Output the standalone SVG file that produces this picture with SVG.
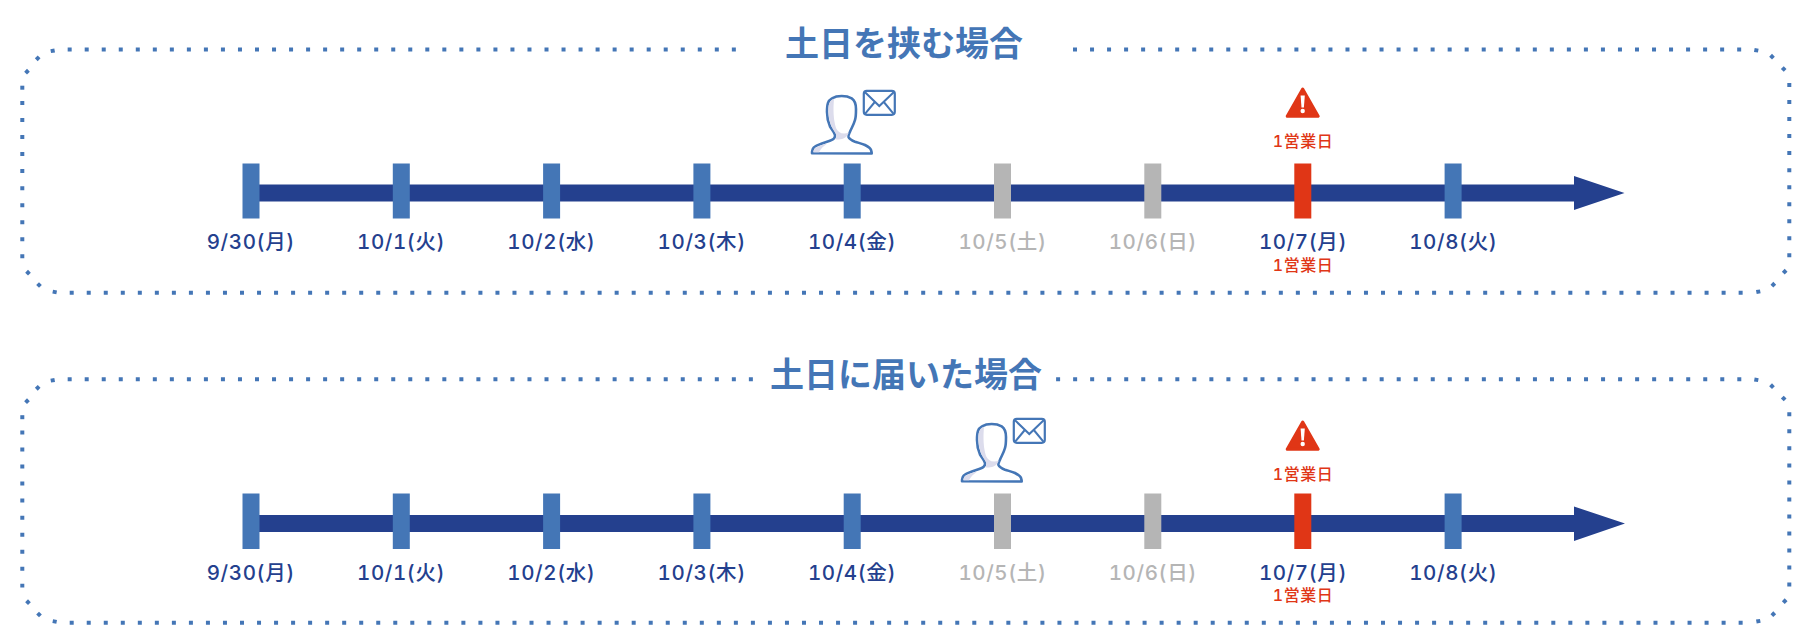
<svg xmlns="http://www.w3.org/2000/svg" width="1807" height="637" viewBox="0 0 1807 637">
<style>
text{font-family:"Inter","Noto Sans CJK JP","Noto Sans",sans-serif;text-anchor:middle;font-variant-numeric:tabular-nums}
.title{font-family:"Noto Sans CJK JP","Noto Sans",sans-serif;font-size:34px;font-weight:700;fill:#4476b6}
.d{font-size:20.500px;font-weight:500;fill:#24408e;letter-spacing:.6px}
.g{font-size:20.500px;font-weight:500;fill:#b5b5b5;letter-spacing:.6px}
.r{font-size:16px;font-weight:500;fill:#e03616;letter-spacing:.5px}
.dot{fill:none;stroke:#4476b6;stroke-width:4;stroke-dasharray:4 13.03}
.c{fill:#4476b6}
.bar{fill:#24408e}
.tb{fill:#4476b6}.tg{fill:#b5b5b5}.tr{fill:#e03616}
.pl{fill:#fff;stroke:#4476b6;stroke-width:2.600;stroke-linejoin:round}
.shade{fill:#dcdcec}
.ev{fill:#fff;stroke:#4476b6;stroke-width:2.200;stroke-linejoin:round}
.evl{fill:none;stroke:#4476b6;stroke-width:2}
</style>
<defs>
<g id="corners">
<rect class="c" x="50.700" y="48.800" width="4" height="4" transform="rotate(-10 52.700 50.800)"/>
<rect class="c" x="35.700" y="56.300" width="4" height="4" transform="rotate(45 37.700 58.300)"/>
<rect class="c" x="25" y="69.700" width="4" height="4" transform="rotate(45 27 71.700)"/>
<rect class="c" x="20.300" y="85.700" width="4" height="4"/>
<rect class="c" x="1754.300" y="48.300" width="4" height="4" transform="rotate(10 1756.300 50.300)"/>
<rect class="c" x="1770" y="54.700" width="4" height="4" transform="rotate(45 1772 56.700)"/>
<rect class="c" x="1781.700" y="67" width="4" height="4" transform="rotate(45 1783.700 69)"/>
<rect class="c" x="1782.700" y="269.700" width="4" height="4" transform="rotate(45 1784.700 271.700)"/>
<rect class="c" x="1771.300" y="282.700" width="4" height="4" transform="rotate(45 1773.300 284.700)"/>
<rect class="c" x="1756.300" y="289.700" width="4" height="4" transform="rotate(-10 1758.300 291.700)"/>
<rect class="c" x="26" y="270.700" width="4" height="4" transform="rotate(45 28 272.700)"/>
<rect class="c" x="37" y="283" width="4" height="4" transform="rotate(45 39 285)"/>
<rect class="c" x="52.700" y="290" width="4" height="4" transform="rotate(10 54.700 292)"/>
</g>
<g id="person">
<path class="pl" d="M812 153.300C812 150 812.500 148 815 146.500C819 143.800 825 142.500 830.500 140.500C833.500 139.500 835.300 137.500 835 135C834.500 132.500 832 130 830 126.500C828 122 827 118 827 112C827 104 828 100.500 832 98.300C835 96.500 838 96 841.700 96C845.500 96 849 96.800 851.700 98.300C855 100.500 856 104 856 109C856 114 856 117 855 120C853.800 124.500 851.500 128 850 131.700C849 134 848 135.500 848.500 137C849.500 139.500 852 140.500 855 141.700C859 143 862.500 143.800 865 145C868.500 146.800 870.500 148 871 150C871.500 151.500 871.700 152.500 871.700 153.500Z"/>
<path class="shade" d="M832 99.800C829 102 828.400 105 828.400 111C828.400 117 829.500 122 831.500 126.500C833 130 835.500 132.500 836.300 135C836.600 137 836 138 835.300 139.300C838 140.300 846 139 847.500 135L849 132.500C843 135 838 133 836 128C833.500 120 833 110 834 98.800Z"/>
<path class="shade" d="M813.500 152.300C813.600 149.500 814.500 148.500 816 147.500C819 145.800 823 144.500 827.500 143.200C823.500 146 820.500 149 819 152.300Z"/>
<rect class="ev" x="863.800" y="90.800" width="31" height="24" rx="3"/>
<path class="evl" d="M864.500 91.800L879.300 106L894.200 91.800M865 113.800L874.800 102M893.600 113.800L883.800 102"/>
</g>
<g id="warn">
<path fill="#e03616" stroke="#e03616" stroke-width="3" stroke-linejoin="round" d="M1302.700 89L1318.200 116.200H1287.200Z"/>
<path fill="#fff" d="M1300.600 95.500H1304.800L1303.900 107.500H1301.500Z"/>
<circle cx="1302.700" cy="111" r="2.200" fill="#fff"/>
</g>
</defs>

<g id="frame-1">
<path class="dot" d="M67.670 49.500H736M1073 49.500H1741.300"/>
<path class="dot" d="M1789.300 83V257.300"/>
<path class="dot" d="M69.700 292.700H1743.300"/>
<path class="dot" d="M22.300 101V258.300"/>
<use href="#corners"/>
</g>
<g id="frame-2">
<path class="dot" d="M67.670 379.300H753M1056.100 379.300H1741.300"/>
<path class="dot" d="M1789.300 412.300V587"/>
<path class="dot" d="M69.700 622.700H1743.300"/>
<path class="dot" d="M22.300 430.500V587.500"/>
<use href="#corners" y="329.500"/>
</g>
<text class="title" x="904" y="56">土日を挟む場合</text>
<text class="title" x="906" y="387">土日に届いた場合</text>

<g id="connectors">
<path class="bar" d="M255 184.500H1574V176L1624.500 193L1574 210V201.500H255Z"/>
<path class="bar" d="M255 515H1574V506.500L1625 523.500L1574 541V532H255Z"/>
</g>

<g id="timeline-1">
<rect class="tb" x="242.500" y="163.500" width="17" height="55"/>
<rect class="tb" x="392.800" y="163.500" width="17" height="55"/>
<rect class="tb" x="543.100" y="163.500" width="17" height="55"/>
<rect class="tb" x="693.400" y="163.500" width="17" height="55"/>
<rect class="tb" x="843.700" y="163.500" width="17" height="55"/>
<rect class="tg" x="994" y="163.500" width="17" height="55"/>
<rect class="tg" x="1144.300" y="163.500" width="17" height="55"/>
<rect class="tr" x="1294.300" y="163.500" width="17" height="55"/>
<rect class="tb" x="1444.600" y="163.500" width="17" height="55"/>
<text class="d" x="250.800" y="248.500">9/30(月)</text>
<text class="d" x="401.100" y="248.500">10/1(火)</text>
<text class="d" x="551.400" y="248.500">10/2(水)</text>
<text class="d" x="701.700" y="248.500">10/3(木)</text>
<text class="d" x="852" y="248.500">10/4(金)</text>
<text class="g" x="1002.500" y="248.500">10/5(土)</text>
<text class="g" x="1152.800" y="248.500">10/6(日)</text>
<text class="d" x="1303" y="248.500">10/7(月)</text>
<text class="d" x="1453.300" y="248.500">10/8(火)</text>
<text class="r" x="1303" y="271">1営業日</text>
<text class="r" x="1303" y="147">1営業日</text>
<use href="#person"/>
<use href="#warn"/>
</g>
<g id="timeline-2">
<rect class="tb" x="242.500" y="493.500" width="17" height="55.500"/>
<rect class="tb" x="392.800" y="493.500" width="17" height="55.500"/>
<rect class="tb" x="543.100" y="493.500" width="17" height="55.500"/>
<rect class="tb" x="693.400" y="493.500" width="17" height="55.500"/>
<rect class="tb" x="843.700" y="493.500" width="17" height="55.500"/>
<rect class="tg" x="994" y="493.500" width="17" height="55.500"/>
<rect class="tg" x="1144.300" y="493.500" width="17" height="55.500"/>
<rect class="tr" x="1294.300" y="493.500" width="17" height="55.500"/>
<rect class="tb" x="1444.600" y="493.500" width="17" height="55.500"/>
<text class="d" x="250.800" y="579.500">9/30(月)</text>
<text class="d" x="401.100" y="579.500">10/1(火)</text>
<text class="d" x="551.400" y="579.500">10/2(水)</text>
<text class="d" x="701.700" y="579.500">10/3(木)</text>
<text class="d" x="852" y="579.500">10/4(金)</text>
<text class="g" x="1002.500" y="579.500">10/5(土)</text>
<text class="g" x="1152.800" y="579.500">10/6(日)</text>
<text class="d" x="1303" y="579.500">10/7(月)</text>
<text class="d" x="1453.300" y="579.500">10/8(火)</text>
<text class="r" x="1303" y="601">1営業日</text>
<text class="r" x="1303" y="480">1営業日</text>
<use href="#person" x="150" y="328"/>
<use href="#warn" y="333"/>
</g>
</svg>
